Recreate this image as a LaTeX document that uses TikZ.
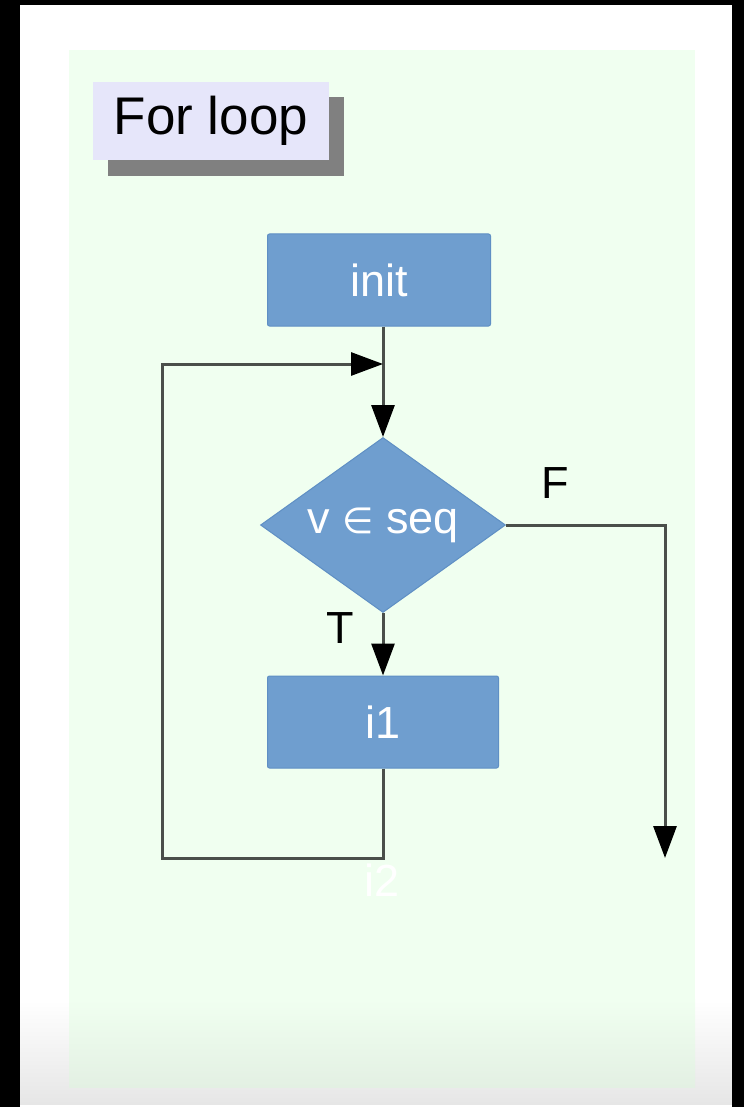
\documentclass[tikz,border=0pt]{standalone}
\usepackage{fontspec}
\setmainfont{Liberation Sans}
\newfontfamily\dvsans{DejaVu Sans}
\usetikzlibrary{arrows.meta,shapes.geometric}
\definecolor{panelgreen}{HTML}{F0FFF0}
\definecolor{panelgreenlow}{HTML}{E3F0E3}
\definecolor{titlefill}{HTML}{E6E6FA}
\definecolor{shadowgray}{HTML}{808080}
\definecolor{boxblue}{HTML}{6F9ECF}
\definecolor{boxedge}{HTML}{5F8FC4}
\definecolor{linegray}{HTML}{4A4F4A}
\definecolor{fadegray}{HTML}{E6E6E6}
\tikzset{
  stepbox/.style={draw=boxedge, line width=1pt, fill=boxblue, rounded corners=2pt,
    text=white, font=\fontsize{45}{50}\selectfont, inner sep=0pt},
  decisionbox/.style={diamond, draw=boxedge, line width=1pt, fill=boxblue, inner sep=0pt},
  flow/.style={draw=linegray, line width=3pt,
    -{Triangle[length=32pt,width=23pt,color=black]}},
  plainflow/.style={draw=linegray, line width=3pt},
  edgelabel/.style={font=\fontsize{45}{50}\selectfont, text=black, inner sep=0pt},
}
\begin{document}
\begin{tikzpicture}[x=1pt,y=-1pt]
\useasboundingbox (0,0) rectangle (744,1107);
% page background
\fill[white] (0,0) rectangle (744,1107);
\shade[top color=white, bottom color=fadegray] (0,1000) rectangle (744,1104);
\fill[black] (0,0) rectangle (20,1107);
\fill[black] (732,0) rectangle (744,1107);
\fill[black] (0,0) rectangle (744,5);
% panel
\fill[panelgreen] (69,50) rectangle (695,1000);
\shade[top color=panelgreen, bottom color=panelgreenlow] (69,999) rectangle (695,1087);
% title
\fill[shadowgray] (108,97) rectangle (344,176);
\node[fill=titlefill, minimum width=236pt, minimum height=78pt, inner sep=0pt,
  font=\fontsize{53}{58}\selectfont, text=black] (title) at (211,121) {For loop};
% nodes
\node[stepbox, minimum width=223pt, minimum height=92pt] (init) at (379,280) {init};
\node[decisionbox, minimum width=245pt, minimum height=175pt] (dec) at (383,525) {};
\node[text=white, font=\fontsize{45}{50}\selectfont, inner sep=0pt] (dectext) at (dec.center)
  {v {\dvsans\fontsize{36}{40}\selectfont ∈} seq};
\node[stepbox, minimum width=231pt, minimum height=92pt] (i1) at (383,722) {i1};
% helper coordinates
\coordinate (merge) at (383,364);
\coordinate (loopA) at (383,858);
\coordinate (loopB) at (162,858);
\coordinate (loopC) at (162,364);
\coordinate (fturn) at (665,525);
\coordinate (fend) at (665,858);
% connectors
\draw[plainflow] (dec.north |- init.south) -- (merge);
\draw[flow] (merge) -- (dec.north);
\draw[flow] (dec.south) -- (i1.north);
\draw[flow] (i1.south) -- (loopA) -- (loopB) -- (loopC) -- (merge);
\draw[flow] (dec.east) -- (fturn) -- (fend);
% labels
\node[edgelabel] (tlab) at (340,628) {T};
\node[edgelabel] (flab) at (555,483) {F};
\node[edgelabel, text=white] (i2lab) at (382,880) {i2};
\end{tikzpicture}
\end{document}
